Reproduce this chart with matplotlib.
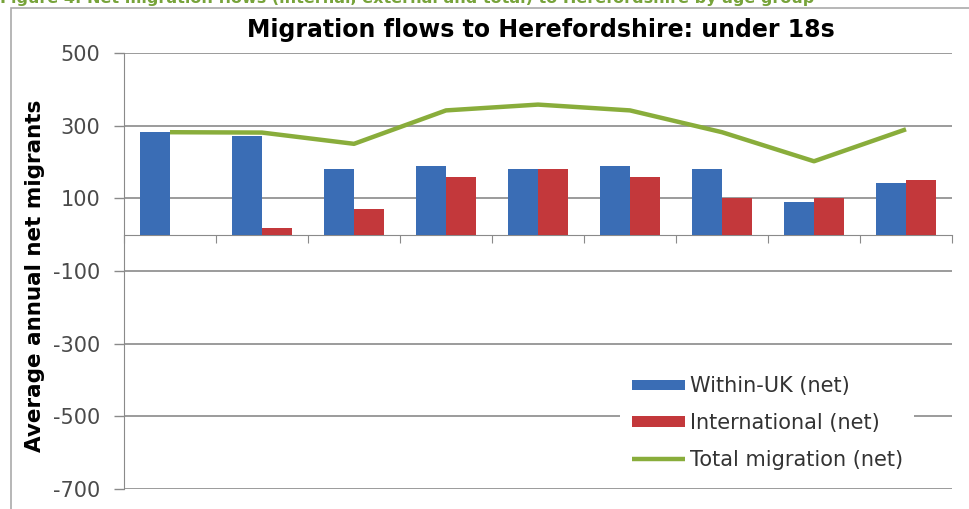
import matplotlib
matplotlib.use("Agg")
import matplotlib.pyplot as plt
import numpy as np
from matplotlib.patches import Rectangle

groups = ["0-4", "5-9", "10-14", "15-17", "g5", "g6", "g7", "g8", "g9"]
within_uk = [282, 271, 182, 190, 180, 190, 182, 90, 142]
international = [0, 19, 71, 160, 180, 160, 102, 100, 151]
total = [282, 281, 250, 342, 358, 342, 282, 202, 290]
yticks = [500, 300, 100, -100, -300, -500, -700]

BLUE = "#3a6db5"
RED = "#c3383b"
GREEN = "#89ad3b"
GRID = "#8a8a8a"

plt.rcParams['font.family'] = ['DejaVu Sans']

fig = plt.figure(figsize=(9.70, 5.09), dpi=100)
ax = fig.add_axes([124/970, 1-489/509, 828/970, (489-53)/509])

x = np.arange(len(groups))
w = 0.326
b1 = ax.bar(x - w/2, within_uk, width=w, color=BLUE, label="Within-UK (net)", zorder=3)
b2 = ax.bar(x + w/2, international, width=w, color=RED, label="International (net)", zorder=3)
l1, = ax.plot(x, total, color=GREEN, lw=3.2, label="Total migration (net)", zorder=4,
              solid_capstyle='butt')

ax.set_xlim(-0.5, len(groups) - 0.5)
ax.set_ylim(-700, 500)
ax.set_yticks(yticks)
ax.set_yticklabels([str(v) for v in yticks], fontsize=15, color="#4a4a4a")
ax.tick_params(axis='y', length=7.2, color=GRID, width=1, pad=10)
ax.yaxis.grid(True, color=GRID, lw=1.2, zorder=0)
ax.set_axisbelow(True)

ax.spines['bottom'].set_position(('data', 0))
ax.spines['bottom'].set_color(GRID)
ax.spines['left'].set_color(GRID)
ax.spines['top'].set_visible(False)
ax.spines['right'].set_visible(False)
ax.set_xticks(np.arange(len(groups) + 1) - 0.5)
ax.set_xticklabels([])
ax.tick_params(axis='x', length=6, color=GRID, direction='out')

ax.set_ylabel("Average annual net migrants", fontsize=15.5, fontweight='bold')
ax.yaxis.set_label_coords(-0.095, 0.49)

fig.text(541/970, 1-37/509, "Migration flows to Herefordshire: under 18s",
         ha='center', va='baseline', fontsize=17, fontweight='bold')

leg = ax.legend(handles=[b1, b2, l1], loc='center left', bbox_to_anchor=(0.587, 0.151),
                frameon=True, facecolor='white', edgecolor='none', framealpha=1,
                fancybox=False, fontsize=15, handlelength=2.55, handleheight=0.42,
                handletextpad=0.22, labelspacing=0.8, borderpad=0.55)
for t in leg.get_texts():
    t.set_color("#333333")

# outer frame of the chart object
fig.patches.append(Rectangle((11/970, -0.1), 1.2, 1 - 8/509 + 0.1,
                             transform=fig.transFigure, fill=False,
                             edgecolor="#aaaaaa", lw=1.2))

fig.text(0.0, 1 - 3/509,
         "Figure 4: Net migration flows (internal, external and total) to Herefordshire by age group",
         ha='left', va='baseline', fontsize=11.5, fontweight='bold', color="#77a33a")

fig.savefig("out.png", dpi=100)
